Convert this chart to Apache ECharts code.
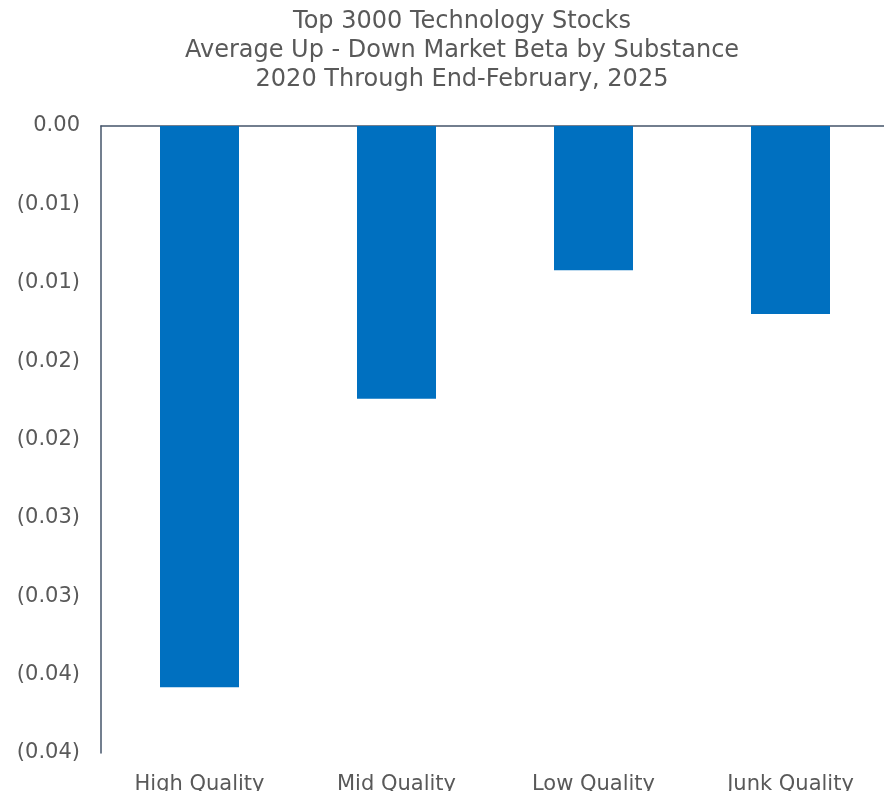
<!DOCTYPE html>
<html>
<head>
<meta charset="utf-8">
<script src="https://cdn.jsdelivr.net/npm/echarts@6/dist/echarts.min.js"></script>
<style>
  html, body { margin: 0; padding: 0; background: #ffffff; }
  #chart { width: 884px; height: 791px; }
</style>
</head>
<body>
<div id="chart"></div>
<script>
// Quality buckets and their average up-minus-down market beta
const categories = ['High Quality', 'Mid Quality', 'Low Quality', 'Junk Quality'];
const betaSpread = [-0.0358, -0.0174, -0.0092, -0.0120];

// Value axis labels, one per 0.005 step from 0 down to -0.04
const tickLabels = ['0.00', '(0.01)', '(0.01)', '(0.02)', '(0.02)', '(0.03)', '(0.03)', '(0.04)', '(0.04)'];
const tickStep = 0.005;

const titleLines = [
  'Top 3000 Technology Stocks',
  'Average Up - Down Market Beta by Substance',
  '2020 Through End-February, 2025'
];

const textColor = '#595959';
const axisColor = '#44546A';
const fontFamily = '"DejaVu Sans", "Noto Sans", sans-serif';

const chart = echarts.init(document.getElementById('chart'));
chart.setOption({
  backgroundColor: '#ffffff',
  animation: false,
  title: {
    text: titleLines.join('\n'),
    left: 457,
    top: 2,
    textAlign: 'center',
    textStyle: {
      color: textColor,
      fontFamily: fontFamily,
      fontSize: 24,
      fontWeight: 'normal',
      lineHeight: 29
    }
  },
  grid: {
    left: 101, right: -5, top: 126, bottom: 38,
    containLabel: false,
    outerBoundsMode: 'none'
  },
  xAxis: [
    {
      type: 'category',
      data: categories,
      position: 'bottom',
      axisLine: { show: false },
      axisTick: { show: false },
      axisLabel: {
        color: textColor,
        fontFamily: fontFamily,
        fontSize: 21,
        margin: 21
      }
    },
    {
      type: 'category',
      data: categories,
      position: 'top',
      axisLine: { show: true, onZero: false, lineStyle: { color: axisColor, width: 1.5 } },
      axisTick: { show: false },
      axisLabel: { show: false }
    }
  ],
  yAxis: {
    type: 'value',
    min: -0.04,
    max: 0,
    interval: tickStep,
    axisLine: { show: true, lineStyle: { color: axisColor, width: 1.5 } },
    axisTick: { show: false },
    splitLine: { show: false },
    axisLabel: {
      color: textColor,
      fontFamily: fontFamily,
      fontSize: 21,
      margin: 21,
      padding: [6, 0, 0, 0],
      formatter: function (v) {
        const i = Math.round(-v / tickStep);
        return tickLabels[i] !== undefined ? tickLabels[i] : '';
      }
    }
  },
  series: [{
    type: 'bar',
    data: betaSpread,
    barWidth: 79,
    itemStyle: { color: '#0070C0' }
  }]
});
</script>
</body>
</html>
